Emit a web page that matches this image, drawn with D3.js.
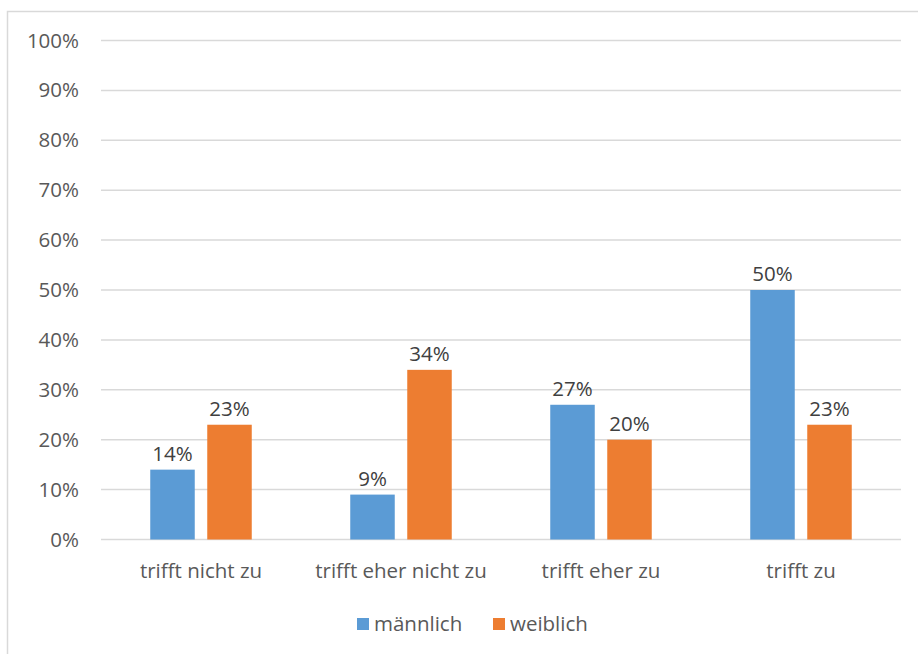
<!DOCTYPE html>
<html>
<head>
<meta charset="utf-8">
<script src="https://cdn.jsdelivr.net/npm/d3@7"></script>
<style>
  html, body { margin: 0; padding: 0; background: #fff; }
  svg { display: block; font-family: "Open Sans", sans-serif; }
</style>
</head>
<body>
<svg id="chart" width="918" height="654"></svg>
<script>
// Survey answers split by gender (share of respondents)
const categories = ["trifft nicht zu", "trifft eher nicht zu", "trifft eher zu", "trifft zu"];
const seriesNames = ["männlich", "weiblich"];
const maleValues = [0.14, 0.09, 0.27, 0.50];
const femaleValues = [0.23, 0.34, 0.20, 0.23];
const yTicks = [0, 0.1, 0.2, 0.3, 0.4, 0.5, 0.6, 0.7, 0.8, 0.9, 1.0];
const colors = ["#5B9BD5", "#ED7D31"];

const series = [maleValues, femaleValues];
const fontSize = 20.5;
const pct = d3.format(".0%");

const svg = d3.select("#chart");

// outer frame of the chart area
svg.append("rect")
  .attr("x", 7.5).attr("y", 11.5)
  .attr("width", 930).attr("height", 700)
  .attr("fill", "none").attr("stroke", "#d9d9d9").attr("stroke-width", 1.5);

const plot = { left: 101, right: 901, top: 40.5, bottom: 539.5 };

const x = d3.scaleBand().domain(categories).range([plot.left, plot.right]).padding(0);
const y = d3.scaleLinear().domain([0, 1]).range([plot.bottom, plot.top]);

// horizontal gridlines
svg.append("g")
  .selectAll("line")
  .data(yTicks)
  .join("line")
  .attr("x1", plot.left).attr("x2", plot.right)
  .attr("y1", d => y(d)).attr("y2", d => y(d))
  .attr("stroke", "#d9d9d9").attr("stroke-width", 1.5);

// y axis labels
const yAxis = d3.axisLeft(y).tickValues(yTicks).tickFormat(pct).tickSize(0).tickPadding(0);
const gy = svg.append("g").attr("transform", `translate(${plot.left - 22},0)`).call(yAxis);
gy.select(".domain").remove();
gy.selectAll("text").attr("fill", "#595959").attr("font-size", fontSize).attr("font-family", "'Open Sans', sans-serif");

// x axis labels
const xAxis = d3.axisBottom(x).tickSize(0).tickPadding(0);
const gx = svg.append("g").attr("transform", `translate(0,${plot.bottom + 24})`).call(xAxis);
gx.select(".domain").remove();
gx.selectAll("text").attr("fill", "#595959").attr("font-size", fontSize).attr("font-family", "'Open Sans', sans-serif");

// bars, two per category around the band centre
const barW = 44.5;
const gap = 12.5;
function barX(cat, i) {
  const c = x(cat) + x.bandwidth() / 2;
  return i === 0 ? c - gap / 2 - barW : c + gap / 2;
}

series.forEach((vals, i) => {
  const rows = categories.map((c, k) => ({ c, v: vals[k] }));
  const g = svg.append("g");
  g.selectAll("rect")
    .data(rows)
    .join("rect")
    .attr("x", d => barX(d.c, i))
    .attr("y", d => y(d.v))
    .attr("width", barW)
    .attr("height", d => y(0) - y(d.v))
    .attr("fill", colors[i]);
  g.selectAll("text")
    .data(rows)
    .join("text")
    .attr("x", d => barX(d.c, i) + barW / 2)
    .attr("y", d => y(d.v) - 9)
    .attr("text-anchor", "middle")
    .attr("fill", "#404040")
    .attr("font-size", fontSize)
    .text(d => pct(d.v));
});

// legend
const legend = svg.append("g").attr("transform", "translate(357,618)");
const legendPos = [0, 136];
seriesNames.forEach((name, i) => {
  const lg = legend.append("g").attr("transform", `translate(${legendPos[i]},0)`);
  lg.append("rect").attr("width", 12).attr("height", 12).attr("fill", colors[i]);
  lg.append("text").attr("x", 17).attr("y", 6).attr("dy", "0.35em")
    .attr("fill", "#595959").attr("font-size", fontSize).text(name);
});
</script>
</body>
</html>
